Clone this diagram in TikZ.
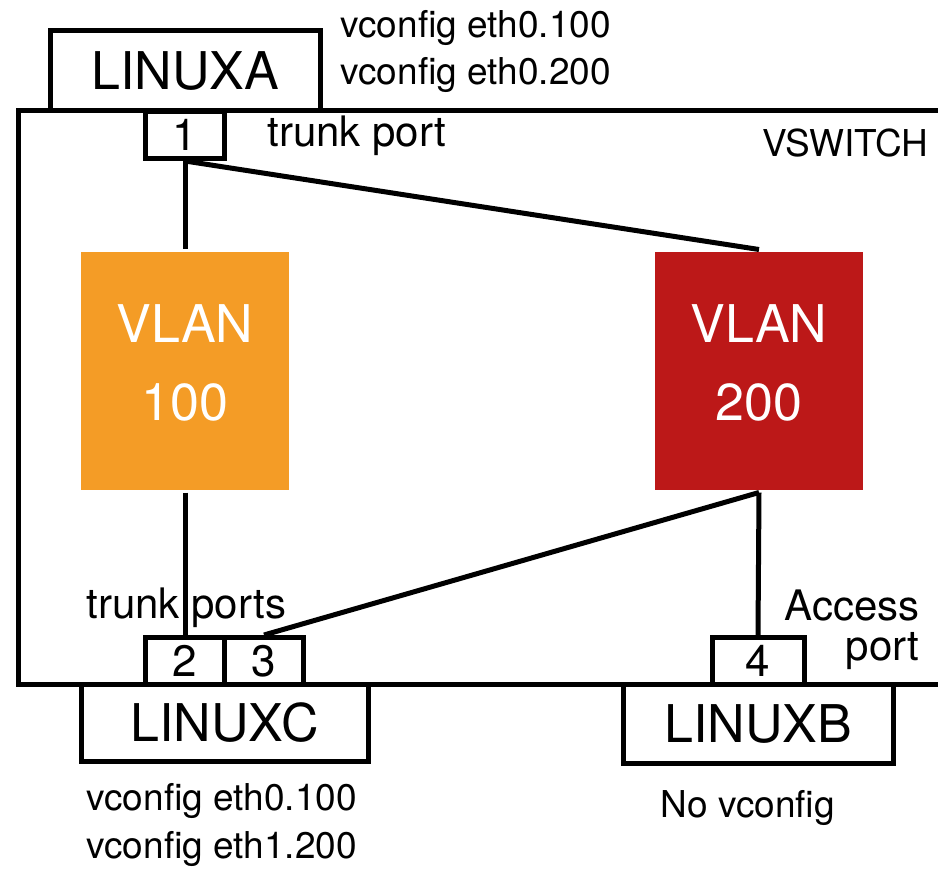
\documentclass[tikz,border=0pt]{standalone}
\usepackage{fontspec}
\setmainfont{TeX Gyre Heros}
\definecolor{vlanorange}{RGB}{244,156,38}
\definecolor{vlanred}{RGB}{188,24,24}

\begin{document}
\begin{tikzpicture}[x=1pt,y=-1pt,line width=5pt,
    host/.style={draw,fill=white,inner sep=0pt,font=\fontsize{52}{60}\selectfont},
    port/.style={draw,fill=white,inner sep=0pt,minimum height=47pt,font=\fontsize{44}{50}\selectfont},
    vlan/.style={inner sep=0pt,minimum width=208pt,minimum height=238pt,text=white,align=center,
                 text depth=17pt,font=\fontsize{52}{78}\selectfont},
    note/.style={inner sep=0pt,font=\fontsize{37}{46}\selectfont},
    portnote/.style={inner sep=0pt,font=\fontsize{42}{47}\selectfont}]
                 \clip (0,0) rectangle (938,869);
                 \draw (950,111) -- (18,111) -- (18,684) -- (950,684);
                 \node[host,minimum width=270pt,minimum height=80pt](linuxa)at(185,71){LINUXA};
                 \node[host,minimum width=287pt,minimum height=77pt](linuxc)at(224.5,723){LINUXC};
                 \node[host,minimum width=270pt,minimum height=79pt](linuxb)at(758,724){LINUXB};
                 \node[port,minimum width=79pt](p1)at(185,135){1};
                 \node[port,minimum width=79pt](p2)at(185,661){2};
                 \node[port,minimum width=79pt](p3)at(264,661){3};
                 \node[port,minimum width=92pt](p4)at(758,661){4};
                 \node[vlan,fill=vlanorange](vlan100)at(185,371){VLAN\\100};
                 \node[vlan,fill=vlanred](vlan200)at(759,371){VLAN\\200};
                 \draw(p1.south)--(vlan100.north);
                 \draw(p1.south)--(vlan200.north);
                 \draw(vlan100.south)--(p2.north);
                 \draw(vlan200.south)--(p3.north);
                 \draw(vlan200.south)--(p4.north);
                 \node[note,anchor=base west](cfga1)at(338,38){vconfig eth0.100};
                 \node[note,anchor=base west](cfga2)at(338,85){vconfig eth0.200};
                 \node[portnote,anchor=base west](trunka)at(265,147){trunk port};
                 \node[note,anchor=base east](vswitch)at(931,157){VSWITCH};
                 \node[portnote,anchor=base west](trunkc)at(84,618){trunk ports};
                 \node[portnote,anchor=base east](access)at(922,620){Access};
                 \node[portnote,anchor=base east](accessport)at(922,660){port};
                 \node[note,anchor=base west](cfgc1)at(84,810){vconfig eth0.100};
                 \node[note,anchor=base west](cfgc2)at(84,858){vconfig eth1.200};
                 \node[note,anchor=base west](cfgb)at(658,817){No vconfig};
               \end{tikzpicture}
\end{document}
